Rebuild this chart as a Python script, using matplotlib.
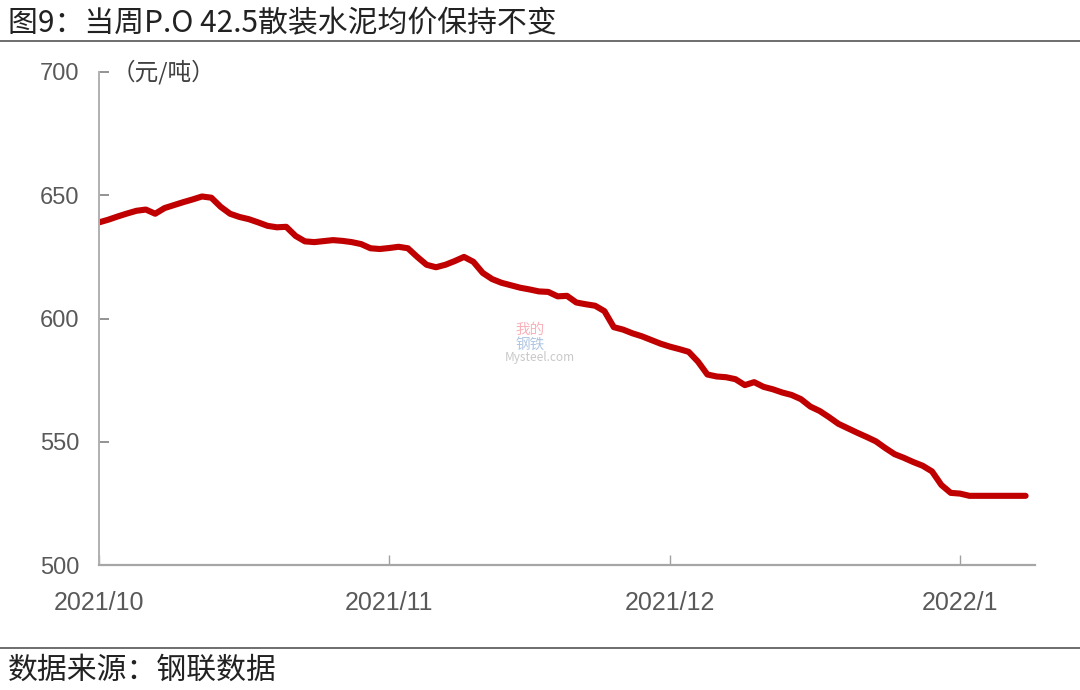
import numpy as np
import pandas as pd
import matplotlib
matplotlib.use('Agg')
import matplotlib.pyplot as plt

plt.rcParams['font.family'] = ['Noto Sans CJK SC', 'DejaVu Sans']

# 日度价格（元/吨），2021/10/1 起
oct_vals = [639.0, 640.1, 641.4, 642.6, 643.7, 644.2, 642.5, 644.8, 646.0, 647.2,
            648.3, 649.5, 649.0, 645.3, 642.5, 641.2, 640.3, 639.0, 637.6, 637.0,
            637.2, 633.5, 631.3, 631.0, 631.4, 631.8, 631.5, 631.0, 630.2, 628.5,
            628.2]
nov_vals = [628.6, 629.1, 628.5, 625.0, 621.8, 620.8, 621.8, 623.3, 625.0, 623.0,
            618.5, 616.0, 614.5, 613.5, 612.5, 611.8, 611.0, 610.8, 609.0, 609.2,
            606.5, 605.8, 605.2, 603.0, 596.5, 595.5, 594.0, 592.8, 591.3, 589.8]
dec_vals = [588.6, 587.6, 586.5, 582.5, 577.3, 576.5, 576.2, 575.4, 573.0, 574.2,
            572.3, 571.3, 570.0, 569.0, 567.3, 564.3, 562.5, 560.0, 557.3, 555.5,
            553.7, 552.0, 550.2, 547.5, 545.0, 543.5, 541.8, 540.3, 538.0, 532.5,
            529.3]
jan_vals = [529.0, 528.1, 528.1, 528.1, 528.1, 528.1, 528.1, 528.1]

values = oct_vals + nov_vals + dec_vals + jan_vals
dates = pd.date_range('2021-10-01', periods=len(values), freq='D')

tick_dates = pd.to_datetime(['2021-10-01', '2021-11-01', '2021-12-01', '2022-01-01'])
tick_labels = ['2021/10', '2021/11', '2021/12', '2022/1']
y_ticks = [500, 550, 600, 650, 700]

fig = plt.figure(figsize=(10.8, 6.9), dpi=100)
ax = fig.add_axes([0.0917, 0.181, 0.8666, 0.7147])

ax.plot(dates, values, color='#C00000', lw=4.4, solid_capstyle='round',
        solid_joinstyle='round')

ax.set_xlim(pd.Timestamp('2021-10-01'), pd.Timestamp('2022-01-09'))
ax.set_ylim(500, 700)
ax.set_yticks(y_ticks)
ax.set_xticks(tick_dates)
ax.set_xticklabels(tick_labels)

num_font = ['Liberation Sans', 'DejaVu Sans']
for lab in ax.get_xticklabels():
    lab.set_family(num_font)
    lab.set_fontsize(18)
    lab.set_color('#595959')
for lab in ax.get_yticklabels():
    lab.set_family(num_font)
    lab.set_fontsize(17)
    lab.set_color('#595959')

ax.tick_params(axis='y', direction='in', length=7.5, width=1.2, color='#808080', pad=14)
ax.tick_params(axis='x', direction='in', length=7.5, width=1.0, color='#A0A0A0', pad=19)

for s in ['top', 'right']:
    ax.spines[s].set_visible(False)
ax.spines['left'].set_color('#B0B0B0')
ax.spines['left'].set_linewidth(1.4)
ax.spines['bottom'].set_color('#A6A6A6')
ax.spines['bottom'].set_linewidth(1.6)

ax.text(0.013, 1.0, '（元/吨）', transform=ax.transAxes, fontsize=17,
        color='#404040', va='center', ha='left')

# 水印
ax.text(0.4605, 0.477, '我的', transform=ax.transAxes, fontsize=10.5,
        color='#F4A0A8', ha='center', va='center', alpha=0.8)
ax.text(0.4605, 0.447, '钢铁', transform=ax.transAxes, fontsize=10.5,
        color='#9DB8DA', ha='center', va='center', alpha=0.8)
ax.text(0.471, 0.421, 'Mysteel.com', transform=ax.transAxes, fontsize=8.5,
        color='#C8C8C8', ha='center', va='center')

# 标题与来源
fig.text(0.007, 0.966, '图9：当周P.O 42.5散装水泥均价保持不变', fontsize=21.5,
         color='#222222', ha='left', va='center')
fig.add_artist(plt.Line2D([0, 1], [0.941, 0.941], color='#555555', lw=1.2))
fig.add_artist(plt.Line2D([0, 1], [0.061, 0.061], color='#555555', lw=1.2))
fig.text(0.007, 0.029, '数据来源：钢联数据', fontsize=21.5,
         color='#222222', ha='left', va='center')

fig.savefig('out.png', dpi=100)
